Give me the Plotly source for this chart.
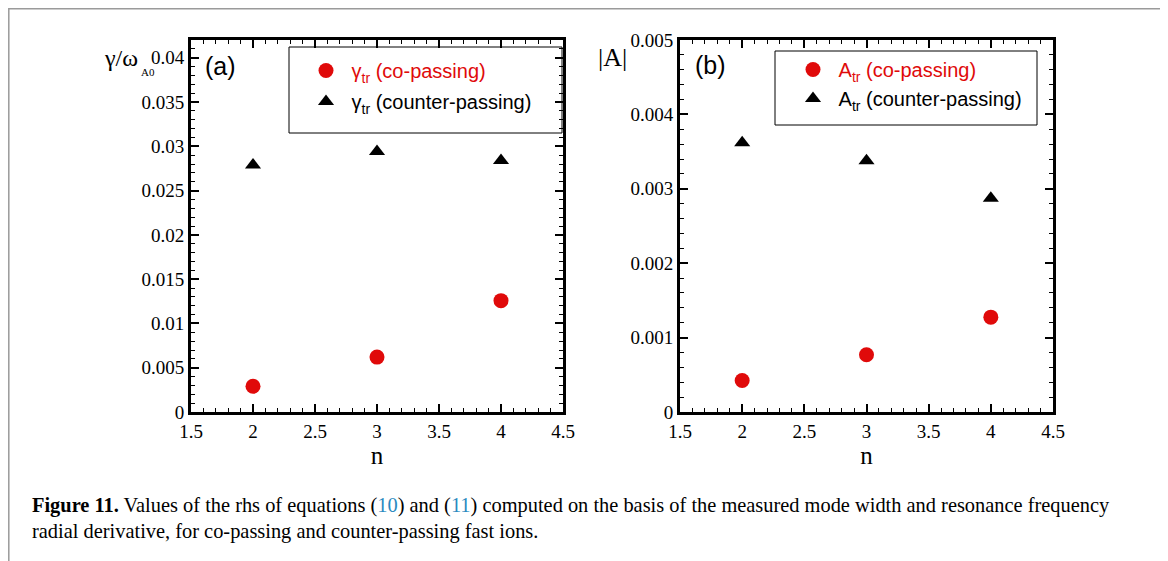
import plotly.graph_objects as go

# ---------------- data ----------------
n_vals = [2, 3, 4]
gamma_co = [0.0029, 0.0062, 0.01257]
gamma_counter = [0.0279, 0.0294, 0.0284]
A_co = [0.000424, 0.000769, 0.001275]
A_counter = [0.003619, 0.003377, 0.002872]

x_ticks = [1.5, 2, 2.5, 3, 3.5, 4, 4.5]
x_ticklabels = ["1.5", "2", "2.5", "3", "3.5", "4", "4.5"]
ya_ticks = [0, 0.005, 0.01, 0.015, 0.02, 0.025, 0.03, 0.035, 0.04]
ya_ticklabels = ["0", "0.005", "0.01", "0.015", "0.02", "0.025", "0.03", "0.035", "0.04"]
yb_ticks = [0, 0.001, 0.002, 0.003, 0.004, 0.005]
yb_ticklabels = ["0", "0.001", "0.002", "0.003", "0.004", "0.005"]

W, H = 1168, 561
OFF = 8  # page body margin
RED = "#e00a0a"
SERIF = "Liberation Serif"
SANS = "Liberation Sans"
NB = "\u00a0"


def px(x):
    return (x - OFF) / W


def py(y):
    return 1 - (y - OFF) / H


fig = go.Figure()

fig.add_trace(go.Scatter(
    x=n_vals, y=gamma_co, mode="markers", xaxis="x", yaxis="y",
    marker=dict(symbol="circle", size=15, color=RED),
    name=NB + "<span style='color:%s'>γ<sub>tr</sub> (co-passing)</span>" % RED,
    legend="legend", legendgroup="a1"))
fig.add_trace(go.Scatter(
    x=n_vals, y=gamma_counter, mode="markers", xaxis="x", yaxis="y",
    marker=dict(symbol="triangle-up", size=14, color="black"),
    name=NB + "γ<sub>tr</sub> (counter-passing)",
    legend="legend", legendgroup="a2"))
fig.add_trace(go.Scatter(
    x=n_vals, y=A_co, mode="markers", xaxis="x2", yaxis="y2",
    marker=dict(symbol="circle", size=15, color=RED),
    name=NB + "<span style='color:%s'>A<sub>tr</sub> (co-passing)</span>" % RED,
    legend="legend2", legendgroup="b1"))
fig.add_trace(go.Scatter(
    x=n_vals, y=A_counter, mode="markers", xaxis="x2", yaxis="y2",
    marker=dict(symbol="triangle-up", size=14, color="black"),
    name=NB + "A<sub>tr</sub> (counter-passing)",
    legend="legend2", legendgroup="b2"))

ydom = [py(412), py(40)]

common_x = dict(
    range=[1.5, 4.5], tickmode="array", tickvals=x_ticks, ticktext=x_ticklabels,
    showline=True, linewidth=3, linecolor="black", mirror="allticks",
    ticks="inside", ticklen=8, tickwidth=1.5, tickcolor="black",
    minor=dict(tickmode="linear", tick0=1.5, dtick=0.1, ticks="inside",
               ticklen=4, tickwidth=1, tickcolor="black"),
    showgrid=False, zeroline=False, automargin=False,
    tickfont=dict(family=SERIF, size=19, color="black"),
    title=dict(text="n", font=dict(family=SERIF, size=25, color="black"), standoff=4),
)
common_y = dict(
    showline=True, linewidth=3, linecolor="black", mirror="allticks",
    ticks="inside", ticklen=8, tickwidth=1.5, tickcolor="black",
    showgrid=False, zeroline=False, tickmode="array", automargin=False,
    tickfont=dict(family=SERIF, size=19, color="black"),
)

fig.update_layout(
    width=W, height=H, margin=dict(l=0, r=0, t=0, b=0, pad=0, autoexpand=False),
    paper_bgcolor="white", plot_bgcolor="white",
    xaxis=dict(domain=[px(191), px(563)], anchor="y", **common_x),
    xaxis2=dict(domain=[px(680), px(1053)], anchor="y2", **common_x),
    yaxis=dict(domain=ydom, anchor="x", range=[0, 0.042],
               tickvals=ya_ticks, ticktext=ya_ticklabels,
               minor=dict(tickmode="linear", tick0=0, dtick=0.001, ticks="inside",
                          ticklen=4, tickwidth=1, tickcolor="black"),
               **common_y),
    yaxis2=dict(domain=ydom, anchor="x2", range=[0, 0.005],
                tickvals=yb_ticks, ticktext=yb_ticklabels,
                minor=dict(tickmode="linear", tick0=0, dtick=0.0002, ticks="inside",
                           ticklen=4, tickwidth=1, tickcolor="black"),
                **common_y),
    legend=dict(x=px(306), y=py(51), xanchor="left", yanchor="top",
                bgcolor="rgba(0,0,0,0)", borderwidth=0,
                font=dict(family=SANS, size=20, color="black"),
                tracegroupgap=2),
    legend2=dict(x=px(793), y=py(50), xanchor="left", yanchor="top",
                 bgcolor="rgba(0,0,0,0)", borderwidth=0,
                 font=dict(family=SANS, size=20, color="black"),
                 tracegroupgap=0),
)

shapes = [
    # outer frame of the figure
    dict(type="rect", xref="paper", yref="paper",
         x0=0.8 / W, x1=px(1162), y0=-0.2, y1=1 - 0.8 / H,
         line=dict(color="#9a9a9a", width=1.5)),
    # legend boxes
    dict(type="rect", xref="paper", yref="paper",
         x0=px(289), x1=px(562), y0=py(133), y1=py(47),
         line=dict(color="black", width=1)),
    dict(type="rect", xref="paper", yref="paper",
         x0=px(775), x1=px(1037), y0=py(125), y1=py(51),
         line=dict(color="black", width=1)),
]
fig.update_layout(shapes=shapes)

ann = [
    dict(text="γ/ω", x=px(102), y=py(58), xanchor="left", yanchor="middle",
         font=dict(family=SERIF, size=24, color="black")),
    dict(text="A0", x=px(139), y=py(72), xanchor="left", yanchor="middle",
         font=dict(family=SERIF, size=11, color="black")),
    dict(text="|A|", x=px(596), y=py(57), xanchor="left", yanchor="middle",
         font=dict(family=SERIF, size=26, color="black")),
    dict(text="(a)", x=px(203), y=py(66), xanchor="left", yanchor="middle",
         font=dict(family=SANS, size=25, color="black")),
    dict(text="(b)", x=px(693), y=py(65), xanchor="left", yanchor="middle",
         font=dict(family=SANS, size=25, color="black")),
    dict(text="<b>Figure 11.</b> Values of the rhs of equations (<span style='color:#2a8ac0'>10</span>) "
              "and (<span style='color:#2a8ac0'>11</span>) computed on the basis of the measured mode "
              "width and resonance frequency",
         x=px(30), y=py(505), xanchor="left", yanchor="middle",
         font=dict(family=SERIF, size=20.4, color="black")),
    dict(text="radial derivative, for co-passing and counter-passing fast ions.",
         x=px(30), y=py(531), xanchor="left", yanchor="middle",
         font=dict(family=SERIF, size=20.4, color="black")),
]
for a in ann:
    a.update(xref="paper", yref="paper", showarrow=False)
fig.update_layout(annotations=ann)

fig.write_html("out.html")
